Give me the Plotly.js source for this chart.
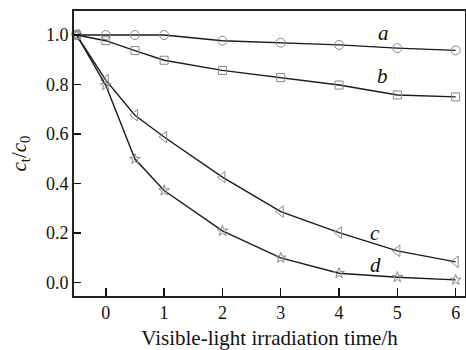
<!DOCTYPE html>
<html><head><meta charset="utf-8">
<script src="https://cdn.plot.ly/plotly-3.0.1.min.js"></script>
<style>html,body{margin:0;padding:0;background:#fff}#chart{width:466px;height:350px}</style>
</head><body><div id="chart"></div>
<script>
const times = [-0.5, 0, 0.5, 1, 2, 3, 4, 5, 6];
const seriesA = [1.0, 1.0, 1.0, 1.0, 0.977, 0.969, 0.96, 0.947, 0.938];
const seriesB = [1.0, 0.977, 0.937, 0.898, 0.857, 0.828, 0.798, 0.758, 0.75];
const seriesC = [1.0, 0.818, 0.676, 0.588, 0.426, 0.287, 0.202, 0.128, 0.084];
const seriesD = [1.0, 0.797, 0.499, 0.372, 0.209, 0.10, 0.038, 0.022, 0.011];
const seriesLabels = ['a', 'b', 'c', 'd'];
const labelPos = [[4.76, 1.01], [4.75, 0.835], [4.62, 0.2], [4.62, 0.07]];
const xTicks = [0, 1, 2, 3, 4, 5, 6];
const yTicks = [0.0, 0.2, 0.4, 0.6, 0.8, 1.0];

const symbols = ['circle-open', 'square-open', 'triangle-left-open', 'star-open'];
const sizes = [9, 8, 10, 8];
const all = [seriesA, seriesB, seriesC, seriesD];
const traces = all.map((s, i) => ({
  x: times, y: s, type: 'scatter', mode: 'lines+markers',
  line: {color: '#1a1a1a', width: 1.4},
  marker: {symbol: symbols[i], size: sizes[i], color: '#888', line: {color: '#888', width: 1}},
  showlegend: false, cliponaxis: false
}));
const font = {family: '"Liberation Serif", "Times New Roman", serif', color: '#111', size: 18};
const layout = {
  width: 466, height: 350,
  margin: {l: 74, r: 1, t: 11, b: 54},
  paper_bgcolor: '#fff', plot_bgcolor: '#fff',
  font: font,
  xaxis: {
    range: [-0.545, 6.16], tickvals: xTicks, ticktext: xTicks.map(String),
    ticks: 'inside', ticklen: 8, tickwidth: 1.5, tickcolor: '#111',
    showline: true, linecolor: '#222', linewidth: 1.8, mirror: true,
    showgrid: false, zeroline: false,
    title: {text: 'Visible-light irradiation time/h', font: {size: 21}, standoff: 9}
  },
  yaxis: {
    range: [-0.054, 1.097], tickvals: yTicks, ticktext: yTicks.map(v => v.toFixed(1)),
    ticks: 'inside', ticklen: 7, tickwidth: 1.5, tickcolor: '#111',
    showline: true, linecolor: '#222', linewidth: 1.8, mirror: true,
    showgrid: false, zeroline: false,
    title: {text: '<i>c</i><sub>t</sub>/<i>c</i><sub>0</sub>', font: {size: 21}, standoff: 14}
  },
  annotations: seriesLabels.map((t, i) => ({
    x: labelPos[i][0], y: labelPos[i][1], xref: 'x', yref: 'y',
    text: '<i>' + t + '</i>', showarrow: false, font: {size: 21}
  }))
};
Plotly.newPlot('chart', traces, layout, {displayModeBar: false, staticPlot: true});
</script></body></html>
